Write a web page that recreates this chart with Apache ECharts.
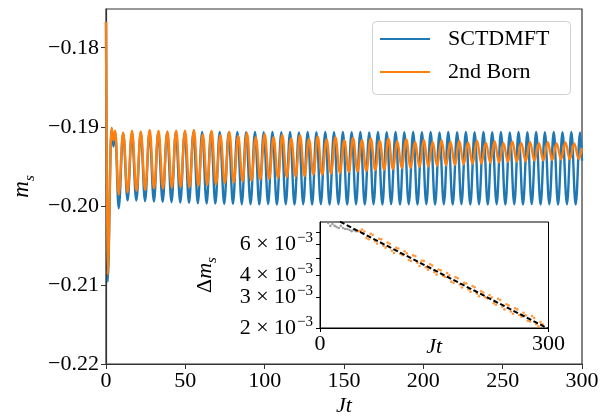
<!DOCTYPE html>
<html>
<head>
<meta charset="utf-8">
<script src="https://cdn.jsdelivr.net/npm/echarts@6.0.0/dist/echarts.min.js"></script>
<style>
  html, body { margin: 0; padding: 0; background: #fff; }
  #chart { width: 607px; height: 417px; }
</style>
</head>
<body>
<div id="chart"></div>
<script>
// Staggered magnetization m_s(Jt) after the quench: SCTDMFT vs. 2nd Born.
// Each trace is stored as its turning points (start transient, then alternating
// minima / maxima of the oscillation) and drawn as a smooth curve through them.

const sctT = [0, 1.0, 3.5, 4.7, 5.8,
  8.0, 10.8, 13.6, 16.3, 19.1, 21.9, 24.6, 27.4, 30.2, 32.9, 35.7, 38.5, 41.3, 44.0, 46.8, 49.6,
  52.3, 55.1, 57.9, 60.6, 63.4, 66.2, 68.9, 71.7, 74.5, 77.3, 80.0, 82.8, 85.6, 88.3, 91.1, 93.9,
  96.6, 99.4, 102.2, 104.9, 107.7, 110.5, 113.3, 116.0, 118.8, 121.6, 124.3, 127.1, 129.9, 132.6,
  135.4, 138.2, 140.9, 143.7, 146.5, 149.3, 152.0, 154.8, 157.6, 160.3, 163.1, 165.9, 168.6, 171.4,
  174.2, 176.9, 179.7, 182.5, 185.3, 188.0, 190.8, 193.6, 196.3, 199.1, 201.9, 204.6, 207.4, 210.2,
  212.9, 215.7, 218.5, 221.3, 224.0, 226.8, 229.6, 232.3, 235.1, 237.9, 240.6, 243.4, 246.2, 248.9,
  251.7, 254.5, 257.3, 260.0, 262.8, 265.6, 268.3, 271.1, 273.9, 276.6, 279.4, 282.2, 284.9, 287.7,
  290.5, 293.3, 296.0, 298.8, 300.0];

const sctM = [-0.1767, -0.2096, -0.1903, -0.1925, -0.1907,
  -0.2003, -0.1908, -0.19930, -0.19080, -0.19932, -0.19074, -0.19940, -0.19072, -0.19944, -0.19070,
  -0.19950, -0.19071, -0.19953, -0.19066, -0.19958, -0.19069, -0.19962, -0.19068, -0.19966, -0.19064,
  -0.19970, -0.19068, -0.19972, -0.19066, -0.19976, -0.19070, -0.19975, -0.19065, -0.19979, -0.19068,
  -0.19978, -0.19066, -0.19981, -0.19069, -0.19977, -0.19065, -0.19982, -0.19068, -0.19979, -0.19066,
  -0.19983, -0.19070, -0.19980, -0.19065, -0.19982, -0.19068, -0.19978, -0.19066, -0.19983, -0.19069,
  -0.19980, -0.19065, -0.19982, -0.19068, -0.19979, -0.19066, -0.19983, -0.19070, -0.19980, -0.19065,
  -0.19982, -0.19068, -0.19978, -0.19066, -0.19983, -0.19069, -0.19980, -0.19065, -0.19982, -0.19068,
  -0.19979, -0.19066, -0.19983, -0.19070, -0.19980, -0.19065, -0.19982, -0.19068, -0.19978, -0.19066,
  -0.19983, -0.19069, -0.19980, -0.19065, -0.19982, -0.19068, -0.19979, -0.19066, -0.19983, -0.19070,
  -0.19980, -0.19065, -0.19982, -0.19068, -0.19978, -0.19066, -0.19983, -0.19069, -0.19980, -0.19065,
  -0.19982, -0.19068, -0.19979, -0.19066, -0.19983, -0.19070, -0.1943];

const bornT = [0, 1.0, 3.5, 4.7, 5.8,
  8.0, 10.8, 13.6, 16.4, 19.2, 21.9, 24.7, 27.5, 30.3, 33.1, 35.9, 38.7, 41.5, 44.2, 47.0, 49.8,
  52.6, 55.4, 58.2, 61.0, 63.8, 66.5, 69.3, 72.1, 74.9, 77.7, 80.5, 83.3, 86.1, 88.8, 91.6, 94.4,
  97.2, 100.0, 102.8, 105.6, 108.4, 111.1, 113.9, 116.7, 119.5, 122.3, 125.1, 127.9, 130.7, 133.4,
  136.2, 139.0, 141.8, 144.6, 147.4, 150.2, 153.0, 155.7, 158.5, 161.3, 164.1, 166.9, 169.7, 172.5,
  175.3, 178.0, 180.8, 183.6, 186.4, 189.2, 192.0, 194.8, 197.6, 200.3, 203.1, 205.9, 208.7, 211.5,
  214.3, 217.1, 219.9, 222.6, 225.4, 228.2, 231.0, 233.8, 236.6, 239.4, 242.2, 244.9, 247.7, 250.5,
  253.3, 256.1, 258.9, 261.7, 264.5, 267.2, 270.0, 272.8, 275.6, 278.4, 281.2, 284.0, 286.8, 289.5,
  292.3, 295.1, 297.9, 300.0];

const bornM = [-0.1767, -0.2087, -0.1901, -0.1917, -0.1905,
  -0.1986, -0.1907, -0.1983, -0.1905, -0.1981, -0.1906, -0.1980, -0.1904, -0.1978, -0.1905,
  -0.1978, -0.1906, -0.1977, -0.1905, -0.1976, -0.1905,
  -0.19764, -0.19039, -0.19746, -0.19097, -0.19736, -0.19051, -0.19728, -0.19105, -0.19708, -0.19066,
  -0.19704, -0.19117, -0.19689, -0.19078, -0.19679, -0.19130, -0.19663, -0.19093, -0.19659, -0.19130,
  -0.19649, -0.19103, -0.19634, -0.19147, -0.19627, -0.19110, -0.19622, -0.19153, -0.19603, -0.19122,
  -0.19603, -0.19161, -0.19590, -0.19130, -0.19583, -0.19168, -0.19570, -0.19140, -0.19565, -0.19168,
  -0.19558, -0.19147, -0.19546, -0.19179, -0.19540, -0.19151, -0.19534, -0.19181, -0.19521, -0.19160,
  -0.19518, -0.19187, -0.19508, -0.19162, -0.19503, -0.19190, -0.19493, -0.19170, -0.19488, -0.19189,
  -0.19483, -0.19175, -0.19474, -0.19198, -0.19469, -0.19176, -0.19464, -0.19200, -0.19455, -0.19182,
  -0.19451, -0.19203, -0.19444, -0.19185, -0.19440, -0.19203, -0.19435, -0.19191, -0.19427, -0.19207,
  -0.19425, -0.19191, -0.19419, -0.19209, -0.19413, -0.19197, -0.19407, -0.19211, -0.19405, -0.1927];

// Exponential fit of the 2nd Born oscillation amplitude (straight on the log axis).
const fitT = [0, 300];
const fitD = [9.19e-3, 1.98e-3];

// Tick positions / labels.
const mainYTicks = [-0.22, -0.21, -0.20, -0.19, -0.18];
const insetYLabels = [2e-3, 3e-3, 4e-3, 6e-3];
const insetYTicks = [2e-3, 3e-3, 4e-3, 5e-3, 6e-3, 7e-3];
const insetXTicks = [0, 300];
const fitWindowStart = 49.8;   // earlier swings are shown in grey

// Amplitude Δm_s: height of each swing between consecutive turning points of 2nd Born.
const firstTurn = bornT.indexOf(8.0);
const ampEarly = [], ampLate = [];
for (let i = firstTurn + 1; i < bornT.length - 1; i++) {
  const pt = [bornT[i], Math.log10(Math.abs(bornM[i] - bornM[i - 1]))];
  if (bornT[i] < fitWindowStart) ampEarly.push(pt); else ampLate.push(pt);
}

const FONT = 'Liberation Serif';
const BLUE = '#1f77b4', ORANGE = '#ff7f0e', FRAME = '#333';
const pair = (ts, vs) => ts.map((t, i) => [t, vs[i]]);
const minus = s => s.replace('-', '\u2212');

const chart = echarts.init(document.getElementById('chart'), null, { renderer: 'canvas' });

chart.setOption({
  animation: false,
  backgroundColor: '#fff',
  textStyle: { fontFamily: FONT },
  grid: [
    { left: 106, right: 25, top: 9, bottom: 53, outerBoundsMode: 'none', show: true, borderColor: FRAME, borderWidth: 1.2, backgroundColor: 'transparent' },
    { left: 320, top: 222, width: 228.5, height: 106, outerBoundsMode: 'none', show: true, borderColor: '#000', borderWidth: 1, backgroundColor: '#fff' }
  ],
  xAxis: [
    {
      gridIndex: 0, type: 'value', min: 0, max: 300, interval: 50,
      axisLine: { lineStyle: { color: FRAME, width: 1.2 } },
      axisTick: { length: 5, lineStyle: { color: FRAME, width: 1 } },
      axisLabel: { margin: 6, fontSize: 22, color: '#000', fontFamily: FONT },
      splitLine: { show: false },
      name: 'Jt', nameLocation: 'middle', nameGap: 31, nameMoveOverlap: false,
      nameTextStyle: { fontSize: 22, fontStyle: 'italic', color: '#000', fontFamily: FONT }
    },
    {
      gridIndex: 1, type: 'value', min: 0, max: 300,
      axisLine: { lineStyle: { color: '#000', width: 1 } },
      axisTick: { length: 4, customValues: insetXTicks, lineStyle: { color: '#000' } },
      axisLabel: { margin: 5, fontSize: 22, color: '#000', fontFamily: FONT, customValues: insetXTicks },
      splitLine: { show: false },
      name: 'Jt', nameLocation: 'middle', nameGap: 8, nameMoveOverlap: false,
      nameTextStyle: { fontSize: 22, fontStyle: 'italic', color: '#000', fontFamily: FONT, verticalAlign: 'top' }
    }
  ],
  yAxis: [
    {
      gridIndex: 0, type: 'value', min: -0.22, max: -0.1751,
      axisLine: { lineStyle: { color: FRAME, width: 1.2 } },
      axisTick: { length: 5, customValues: mainYTicks, lineStyle: { color: FRAME, width: 1 } },
      axisLabel: {
        margin: 7, fontSize: 22, color: '#000', fontFamily: FONT, customValues: mainYTicks,
        formatter: v => minus(v.toFixed(2))
      },
      splitLine: { show: false },
      name: '{i|m}{s|s}', nameLocation: 'middle', nameGap: 66, nameRotate: 90,
      nameTextStyle: {
        color: '#000',
        rich: {
          i: { fontSize: 23, fontStyle: 'italic', fontFamily: FONT, verticalAlign: 'middle', lineHeight: 30, color: '#000' },
          s: { fontSize: 15, fontStyle: 'italic', fontFamily: FONT, verticalAlign: 'bottom', lineHeight: 30, color: '#000' }
        }
      }
    },
    {
      gridIndex: 1, type: 'value',
      min: Math.log10(2e-3), max: Math.log10(8e-3),
      axisLine: { lineStyle: { color: '#000', width: 1 } },
      axisTick: { length: 4, customValues: insetYTicks.map(Math.log10), lineStyle: { color: '#000' } },
      axisLabel: {
        margin: 7, color: '#000', fontFamily: FONT,
        customValues: insetYLabels.map(Math.log10),
        formatter: v => '{a|' + Math.round(Math.pow(10, v) * 1000) + ' \u00d7 10}{s|\u22123}',
        rich: {
          a: { fontSize: 22, fontFamily: FONT, verticalAlign: 'middle', lineHeight: 26, color: '#000' },
          s: { fontSize: 15, fontFamily: FONT, verticalAlign: 'top', lineHeight: 26, color: '#000', padding: [0, 0, 0, 1] }
        }
      },
      splitLine: { show: false },
      name: '{d|\u0394}{i|m}{s|s}', nameLocation: 'middle', nameGap: 100, nameRotate: 90,
      nameTextStyle: {
        color: '#000',
        rich: {
          d: { fontSize: 22, fontFamily: FONT, verticalAlign: 'middle', lineHeight: 30, color: '#000' },
          i: { fontSize: 22, fontStyle: 'italic', fontFamily: FONT, verticalAlign: 'middle', lineHeight: 30, color: '#000' },
          s: { fontSize: 15, fontStyle: 'italic', fontFamily: FONT, verticalAlign: 'bottom', lineHeight: 30, color: '#000' }
        }
      }
    }
  ],
  legend: {
    orient: 'vertical', left: 380, top: 28, padding: 0,
    itemWidth: 50, itemHeight: 2, itemGap: 11, icon: 'rect',
    textStyle: { fontFamily: FONT, fontSize: 22, lineHeight: 22, color: '#000', padding: [0, 0, 0, 13] },
    data: ['SCTDMFT', '2nd Born']
  },
  graphic: [{
    type: 'rect', left: 372, top: 21, z: -1,
    shape: { width: 198, height: 73, r: 4 },
    style: { fill: 'rgba(255,255,255,0.8)', stroke: '#d0d0d0', lineWidth: 1 }
  }],
  series: [
    {
      name: 'SCTDMFT', type: 'line', xAxisIndex: 0, yAxisIndex: 0,
      data: pair(sctT, sctM), showSymbol: false, smooth: 0.38, smoothMonotone: 'x',
      lineStyle: { color: BLUE, width: 2.4 }, itemStyle: { color: BLUE }, z: 2
    },
    {
      name: '2nd Born', type: 'line', xAxisIndex: 0, yAxisIndex: 0,
      data: pair(bornT, bornM), showSymbol: false, smooth: 0.38, smoothMonotone: 'x',
      lineStyle: { color: ORANGE, width: 2.4 }, itemStyle: { color: ORANGE }, z: 3
    },
    {
      type: 'scatter', xAxisIndex: 1, yAxisIndex: 1, data: ampEarly,
      symbol: 'circle', symbolSize: 2.6, itemStyle: { color: '#8c8c8c' }, z: 4, silent: true
    },
    {
      type: 'scatter', xAxisIndex: 1, yAxisIndex: 1, data: ampLate,
      symbol: 'circle', symbolSize: 2.6, itemStyle: { color: ORANGE }, z: 4, silent: true
    },
    {
      type: 'line', xAxisIndex: 1, yAxisIndex: 1,
      data: pair(fitT, fitD.map(Math.log10)), showSymbol: false,
      lineStyle: { color: '#000', width: 2, type: [5, 2.5] }, z: 5, silent: true
    }
  ]
});
</script>
</body>
</html>
